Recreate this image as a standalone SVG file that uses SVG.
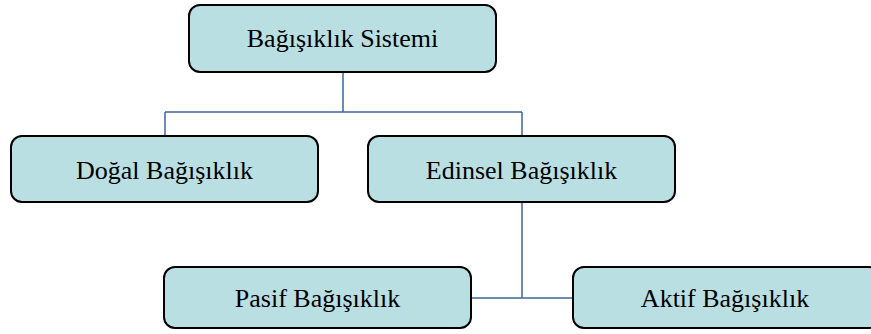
<svg xmlns="http://www.w3.org/2000/svg" width="871" height="334" viewBox="0 0 871 334">
<style>
.box{fill:#badfe3;stroke:#000;stroke-width:2}
.lbl{font-family:"Liberation Serif","Times New Roman",serif;font-size:26px;fill:#000;text-anchor:middle}
.conn{fill:none;stroke:#3f669e;stroke-width:1.5}
</style>
<rect width="871" height="334" fill="#fff"/>
<g id="connectors">
<path class="conn" d="M343 72V112M165 112H522M165 112V136M522 112V136"/>
<path class="conn" d="M522 202V298M471 298H573"/>
</g>
<g id="n-sistem"><rect class="box" x="189" y="5" width="307" height="67" rx="11"/><text class="lbl" x="342.5" y="47">Bağışıklık Sistemi</text></g>
<g id="n-dogal"><rect class="box" x="11" y="136" width="307" height="66" rx="11"/><text class="lbl" x="164.5" y="179">Doğal Bağışıklık</text></g>
<g id="n-edinsel"><rect class="box" x="368" y="136" width="307" height="66" rx="11"/><text class="lbl" x="521.5" y="179">Edinsel Bağışıklık</text></g>
<g id="n-pasif"><rect class="box" x="164" y="267" width="307" height="61" rx="11"/><text class="lbl" x="317.5" y="307">Pasif Bağışıklık</text></g>
<g id="n-aktif"><rect class="box" x="573" y="267" width="307" height="61" rx="11"/><text class="lbl" x="725" y="307">Aktif Bağışıklık</text></g>
</svg>
